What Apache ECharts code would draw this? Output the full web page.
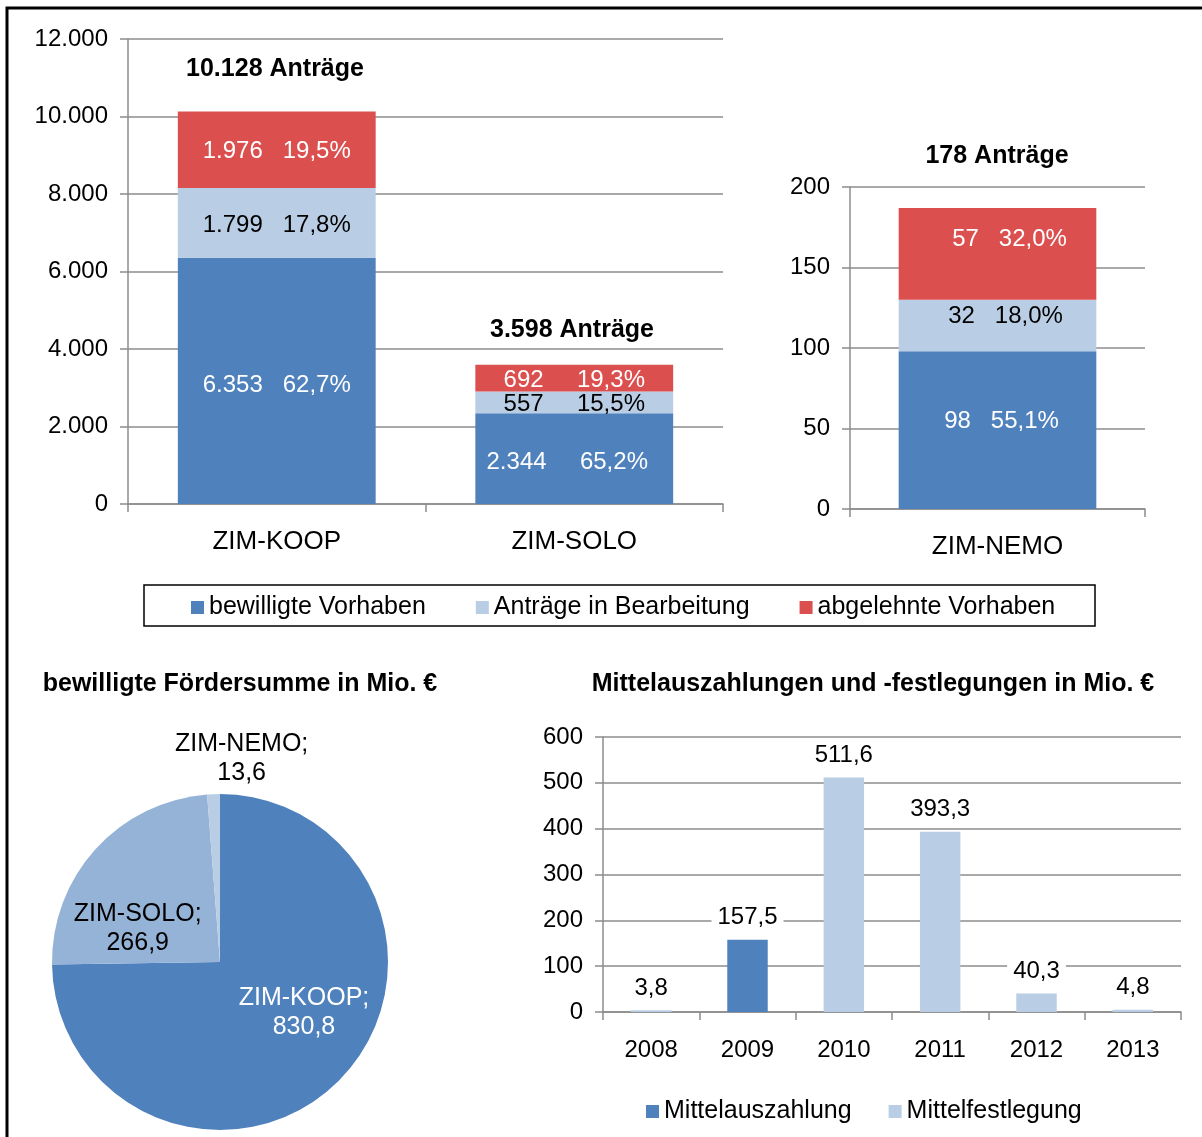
<!DOCTYPE html>
<html><head><meta charset="utf-8">
<script src="https://cdn.jsdelivr.net/npm/echarts@6/dist/echarts.min.js"></script>
<style>html,body{margin:0;padding:0;background:#fff}#c{width:1202px;height:1137px}</style>
</head><body><div id="c"></div>
<script>
// ---- data ----
const programs = ['ZIM-KOOP', 'ZIM-SOLO'];
const approved = [6353, 2344];
const inProcess = [1799, 557];
const rejected = [1976, 692];
const approvedPct = [62.7, 65.2];
const inProcessPct = [17.8, 15.5];
const rejectedPct = [19.5, 19.3];
const programTitles = ['10.128 Anträge', '3.598 Anträge'];

const nemoCategory = ['ZIM-NEMO'];
const nemoApproved = [98];
const nemoInProcess = [32];
const nemoRejected = [57];
const nemoApprovedPct = [55.1];
const nemoInProcessPct = [18.0];
const nemoRejectedPct = [32.0];
const nemoTitle = '178 Anträge';

const seriesNames = ['bewilligte Vorhaben', 'Anträge in Bearbeitung', 'abgelehnte Vorhaben'];

const pieNames = ['ZIM-KOOP', 'ZIM-SOLO', 'ZIM-NEMO'];
const pieValues = [830.8, 266.9, 13.6];
const pieTitle = 'bewilligte Fördersumme in Mio. €';

const years = ['2008', '2009', '2010', '2011', '2012', '2013'];
const payout = [null, 157.5, null, null, null, null];
const commitment = [3.8, null, 511.6, 393.3, 40.3, 4.8];
const payoutNames = ['Mittelauszahlung', 'Mittelfestlegung'];
const payoutTitle = 'Mittelauszahlungen und -festlegungen in Mio. €';

const leftTicks = {min: 0, max: 12000, interval: 2000};
const nemoTicks = {min: 0, max: 200, interval: 50};
const yearTicks = {min: 0, max: 600, interval: 100};

// ---- helpers ----
const FONT = "'Liberation Sans', Arial, sans-serif";
const DARK = '#4f81bd', LIGHT = '#b9cde5', RED = '#db4f4f', MID = '#95b3d7';
const GRID = '#8c8c8c';
const fmtInt = n => String(n).replace(/\B(?=(\d{3})+(?!\d))/g, '.');
const fmtDec = v => v.toFixed(1).replace('.', ',');

function yAxis(gi, t) {
  return {
    type: 'value', gridIndex: gi, min: t.min, max: t.max, interval: t.interval,
    axisLine: {show: true, lineStyle: {color: GRID, width: 1.5}},
    axisTick: {show: true, length: 8, lineStyle: {color: GRID, width: 1.5}},
    splitLine: {show: true, lineStyle: {color: GRID, width: 1.5}},
    axisLabel: {color: '#000', fontSize: 24, fontFamily: FONT, margin: 20, formatter: v => fmtInt(v)}
  };
}
function xAxis(gi, data, margin, size) {
  return {
    type: 'category', gridIndex: gi, data: data,
    axisLine: {show: true, lineStyle: {color: GRID, width: 1.5}},
    axisTick: {show: true, length: 8, lineStyle: {color: GRID, width: 1.5}},
    axisLabel: {color: '#000', fontSize: size, fontFamily: FONT, margin: margin}
  };
}
function stackLabel(vals, pcts, color, gaps, offset) {
  return {
    show: true, position: 'inside', color: color, fontSize: 24, fontFamily: FONT,
    offset: offset || [0, 0],
    formatter: p => fmtInt(vals[p.dataIndex]) + gaps[p.dataIndex] + fmtDec(pcts[p.dataIndex]) + '%'
  };
}
const gapsLeft = ['   ', '     '];
const gapsNemo = ['   '];
const titleStyle = {fontSize: 25, fontWeight: 'bold', color: '#000', fontFamily: FONT};

const option = {
  animation: false,
  backgroundColor: '#fff',
  textStyle: {fontFamily: FONT},
  title: [
    {text: programTitles[0], left: 275, top: 57, padding: 0, textAlign: 'center', textStyle: titleStyle},
    {text: programTitles[1], left: 572, top: 318, padding: 0, textAlign: 'center', textStyle: titleStyle},
    {text: nemoTitle, left: 997, top: 144, padding: 0, textAlign: 'center', textStyle: titleStyle},
    {text: pieTitle, left: 240, top: 672, padding: 0, textAlign: 'center', textStyle: titleStyle},
    {text: payoutTitle, left: 873, top: 672, padding: 0, textAlign: 'center', textStyle: titleStyle}
  ],
  legend: [
    {data: seriesNames, left: 191, top: 595, padding: 0, itemWidth: 13, itemHeight: 13, itemGap: 50, icon: 'rect',
     textStyle: {fontSize: 25, color: '#000', fontFamily: FONT}},
    {data: payoutNames, left: 646, top: 1099, padding: 0, itemWidth: 13, itemHeight: 13, itemGap: 37, icon: 'rect',
     textStyle: {fontSize: 25, color: '#000', fontFamily: FONT}}
  ],
  grid: [
    {left: 128, top: 39, width: 595, height: 465},
    {left: 850, top: 187, width: 295, height: 322},
    {left: 603, top: 737, width: 578, height: 275}
  ],
  xAxis: [xAxis(0, programs, 25, 26), xAxis(1, nemoCategory, 25, 26), xAxis(2, years, 26, 24)],
  yAxis: [yAxis(0, leftTicks), yAxis(1, nemoTicks), yAxis(2, yearTicks)],
  graphic: [
    {type: 'rect', shape: {x: 7, y: 8, width: 1400, height: 1400}, style: {fill: 'none', stroke: '#000', lineWidth: 3}, silent: true},
    {type: 'rect', shape: {x: 144, y: 585, width: 951, height: 41}, style: {fill: 'none', stroke: '#000', lineWidth: 1.5}, silent: true}
  ],
  series: [
    {name: seriesNames[0], type: 'bar', stack: 'a', xAxisIndex: 0, yAxisIndex: 0, data: approved.slice(), barWidth: '66.5%',
     itemStyle: {color: DARK}, label: stackLabel(approved, approvedPct, '#fff', gapsLeft, [0, 4])},
    {name: seriesNames[1], type: 'bar', stack: 'a', xAxisIndex: 0, yAxisIndex: 0, data: inProcess, barWidth: '66.5%',
     itemStyle: {color: LIGHT}, label: stackLabel(inProcess, inProcessPct, '#000', gapsLeft, [0, 2])},
    {name: seriesNames[2], type: 'bar', stack: 'a', xAxisIndex: 0, yAxisIndex: 0, data: rejected, barWidth: '66.5%',
     itemStyle: {color: RED}, label: stackLabel(rejected, rejectedPct, '#fff', gapsLeft, [0, 2])},

    {name: seriesNames[0], type: 'bar', stack: 'n', xAxisIndex: 1, yAxisIndex: 1, data: nemoApproved, barWidth: '67%',
     itemStyle: {color: DARK}, label: stackLabel(nemoApproved, nemoApprovedPct, '#fff', gapsNemo, [4, -9])},
    {name: seriesNames[1], type: 'bar', stack: 'n', xAxisIndex: 1, yAxisIndex: 1, data: nemoInProcess, barWidth: '67%',
     itemStyle: {color: LIGHT}, label: stackLabel(nemoInProcess, nemoInProcessPct, '#000', gapsNemo, [8, -9])},
    {name: seriesNames[2], type: 'bar', stack: 'n', xAxisIndex: 1, yAxisIndex: 1, data: nemoRejected, barWidth: '67%',
     itemStyle: {color: RED}, label: stackLabel(nemoRejected, nemoRejectedPct, '#fff', gapsNemo, [12, -14])},

    {type: 'pie', center: [220, 962], radius: 168, startAngle: 90, clockwise: true,
     data: pieNames.map((n, i) => ({name: n, value: pieValues[i]})),
     color: [DARK, MID, LIGHT],
     itemStyle: {borderWidth: 0},
     label: {show: true, position: 'inside', fontSize: 25, lineHeight: 29, fontFamily: FONT,
             color: '#000', formatter: p => p.name + ';\n' + fmtDec(p.value)},
     labelLine: {show: false},
     labelLayout: function (p) {
       if (p.dataIndex === 0) return {dx: 22, dy: -10};
       if (p.dataIndex === 1) return {dx: -18, dy: 25};
       return {dx: 25, dy: -116};
     },
     emphasis: {disabled: true}
    },

    {name: payoutNames[0], type: 'bar', stack: 'y', xAxisIndex: 2, yAxisIndex: 2, data: payout, barWidth: '42%',
     itemStyle: {color: DARK},
     label: {show: true, position: 'top', distance: 8, fontSize: 24, color: '#000', fontFamily: FONT,
             backgroundColor: '#fff', padding: [2, 6], formatter: p => p.value == null ? '' : fmtDec(p.value)}},
    {name: payoutNames[1], type: 'bar', stack: 'y', xAxisIndex: 2, yAxisIndex: 2, data: commitment, barWidth: '42%',
     itemStyle: {color: LIGHT},
     label: {show: true, position: 'top', distance: 8, fontSize: 24, color: '#000', fontFamily: FONT,
             backgroundColor: '#fff', padding: [2, 6], formatter: p => p.value == null ? '' : fmtDec(p.value)}}
  ]
};
// per-item label tweaks
option.series[6].data[0].label = {color: '#fff'};
option.series[0].data[1] = {value: approved[1], label: {offset: [-7, 4]}};

const chart = echarts.init(document.getElementById('c'), null, {renderer: 'canvas'});
chart.setOption(option);
</script></body></html>
